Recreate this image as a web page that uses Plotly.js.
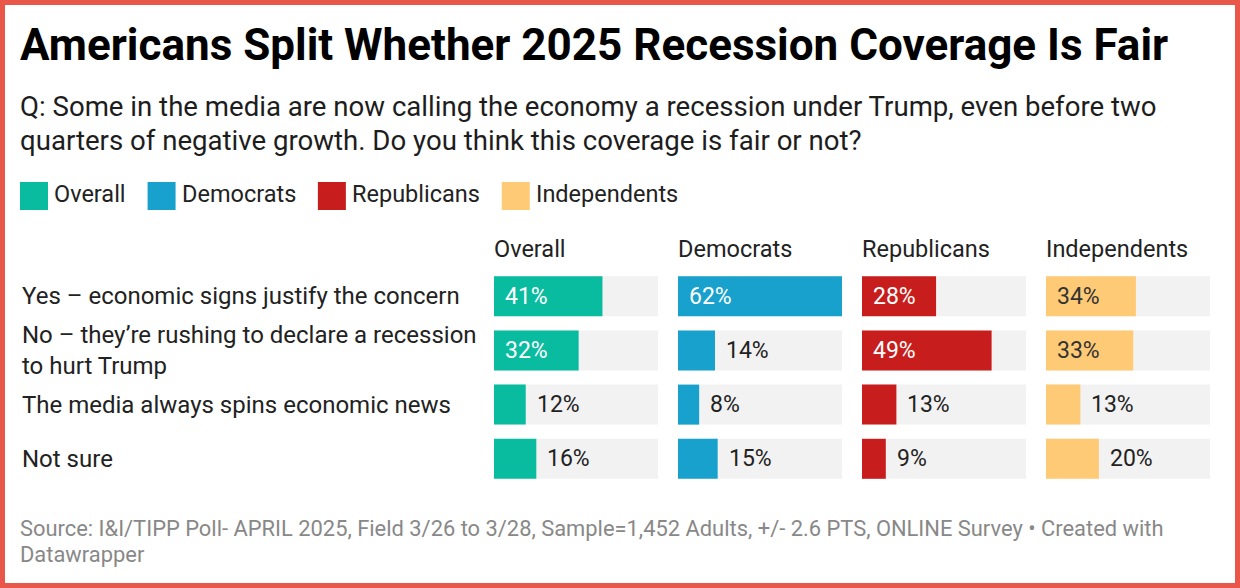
<!DOCTYPE html>
<html><head><meta charset="utf-8">
<script src="https://cdn.plot.ly/plotly-3.0.1.min.js"></script>
<style>html,body{margin:0;padding:0;background:#fff}#chart{width:1240px;height:588px}</style>
</head><body><div id="chart"></div>
<script>
// ---- data ----
const rows = ["Yes – economic signs justify the concern",
              "No – they’re rushing to declare a recession<br>to hurt Trump",
              "The media always spins economic news",
              "Not sure"];
const seriesNames = ["Overall", "Democrats", "Republicans", "Independents"];
const overall      = [41, 32, 12, 16];
const democrats    = [62, 14, 8, 15];
const republicans  = [28, 49, 13, 9];
const independents = [34, 33, 13, 20];
const colors = ["#09bb9f", "#18a1cd", "#c71e1d", "#ffca76"];
const insideTextColors = ["#ffffff", "#ffffff", "#ffffff", "#333333"];
const titleText = "Americans Split Whether 2025 Recession Coverage Is Fair";
const subtitleText = "Q: Some in the media are now calling the economy a recession under Trump, even before two<br>quarters of negative growth. Do you think this coverage is fair or not?";
const footerText = "Source: I&I/TIPP Poll- APRIL 2025, Field 3/26 to 3/28, Sample=1,452 Adults, +/- 2.6 PTS, ONLINE Survey • Created with<br>Datawrapper";

// ---- layout helpers ----
const W = 1240, H = 588;
const px = x => x / W;
const py = y => 1 - y / H;
const FONT = "Roboto, 'Open Sans', sans-serif";
const series = [overall, democrats, republicans, independents];
const maxVal = Math.max(...series.flat());
const colLeft = 494, colW = 164, colPitch = 184;
const rowPitch = 54.2, firstCenter = 296.2, barPx = 40;
const yTop = firstCenter - rowPitch / 2, yBot = yTop + rowPitch * rows.length;
const insideMin = 25;

function centerFor(baseline, fs, nLines) {
  return baseline + (nLines - 1) * 1.3 * fs / 2 - 0.342 * fs;
}

const traces = [];
const layout = {
  width: W, height: H,
  margin: {l: 0, r: 0, t: 0, b: 0, pad: 0},
  paper_bgcolor: "#ffffff", plot_bgcolor: "rgba(0,0,0,0)",
  showlegend: false, barmode: "overlay", hovermode: false,
  font: {family: FONT, color: "#222"},
  title: {text: titleText, font: {family: FONT, size: 44, weight: 700, color: "#000"},
          x: px(20), xref: "paper", xanchor: "left",
          y: 1 - 29.2 / H, yref: "container", yanchor: "top"},
  yaxis: {type: "category", categoryorder: "array", categoryarray: rows,
          range: [rows.length - 0.5, -0.5], domain: [py(yBot), py(yTop)],
          visible: false, fixedrange: true},
  annotations: [], shapes: []
};

function textLine(text, xPx, baseline, fs, color) {
  layout.annotations.push({xref: "paper", yref: "paper", x: px(xPx), y: py(centerFor(baseline, fs, 1)),
    xanchor: "left", yanchor: "middle", align: "left", text: text, showarrow: false,
    borderpad: 0, borderwidth: 0, font: {size: fs, color: color}});
}

series.forEach((vals, s) => {
  const xa = s === 0 ? "x" : "x" + (s + 1);
  const key = s === 0 ? "xaxis" : "xaxis" + (s + 1);
  const left = colLeft + s * colPitch;
  layout[key] = {domain: [px(left), px(left + colW)], range: [0, maxVal],
                 visible: false, fixedrange: true, anchor: "y"};
  traces.push({type: "bar", orientation: "h", x: rows.map(() => maxVal), y: rows,
               xaxis: xa, yaxis: "y", marker: {color: "#f2f2f2"}, width: barPx / rowPitch,
               hoverinfo: "skip", textposition: "none"});
  traces.push({type: "bar", orientation: "h", x: vals, y: rows, name: seriesNames[s],
               xaxis: xa, yaxis: "y", marker: {color: colors[s]}, width: barPx / rowPitch,
               hoverinfo: "skip", textposition: "none"});
  // column header
  textLine(seriesNames[s], left, 257.3, 23.5, "#222");
  // value labels
  vals.forEach((v, r) => {
    const inside = v >= insideMin;
    layout.annotations.push({xref: xa, yref: "y", x: inside ? 0 : v, y: rows[r],
      xanchor: "left", yanchor: "middle", xshift: 11, text: v + "%", showarrow: false,
      borderpad: 0, borderwidth: 0,
      font: {size: 23, color: inside ? insideTextColors[s] : "#222"}});
  });
});

// row labels
rows.forEach(r => {
  layout.annotations.push({xref: "paper", yref: "y", x: px(21.5), y: r,
    xanchor: "left", yanchor: "middle", align: "left", text: r, showarrow: false,
    borderpad: 0, borderwidth: 0, font: {size: 24, color: "#222"}});
});

// subtitle (two lines)
subtitleText.split("<br>").forEach((t, i) => textLine(t, 19.5, 115.7 + i * 34.2, 27.6, "#1d1d1d"));

// footer (two lines)
footerText.split("<br>").forEach((t, i) => textLine(t, 19.7, 535.7 + i * 26, 21.9, "#888888"));

// legend (swatches + names)
const ctx = document.createElement("canvas").getContext("2d");
ctx.font = "23.5px Roboto";
let lx = 20;
seriesNames.forEach((n, s) => {
  layout.shapes.push({type: "rect", xref: "paper", yref: "paper", x0: px(lx), x1: px(lx + 28),
    y0: py(210), y1: py(182), fillcolor: colors[s], line: {width: 0}});
  textLine(n, lx + 34, 202.3, 23.5, "#222");
  lx += 34 + ctx.measureText(n).width + 22;
});

// frame
layout.shapes.push({type: "rect", xref: "paper", yref: "paper", x0: px(2.5), x1: px(W - 2.5),
  y0: py(H - 2.5), y1: py(2.5), line: {color: "#e9574b", width: 5}, fillcolor: "rgba(0,0,0,0)"});

Plotly.newPlot("chart", traces, layout, {displayModeBar: false, staticPlot: true});
</script></body></html>
